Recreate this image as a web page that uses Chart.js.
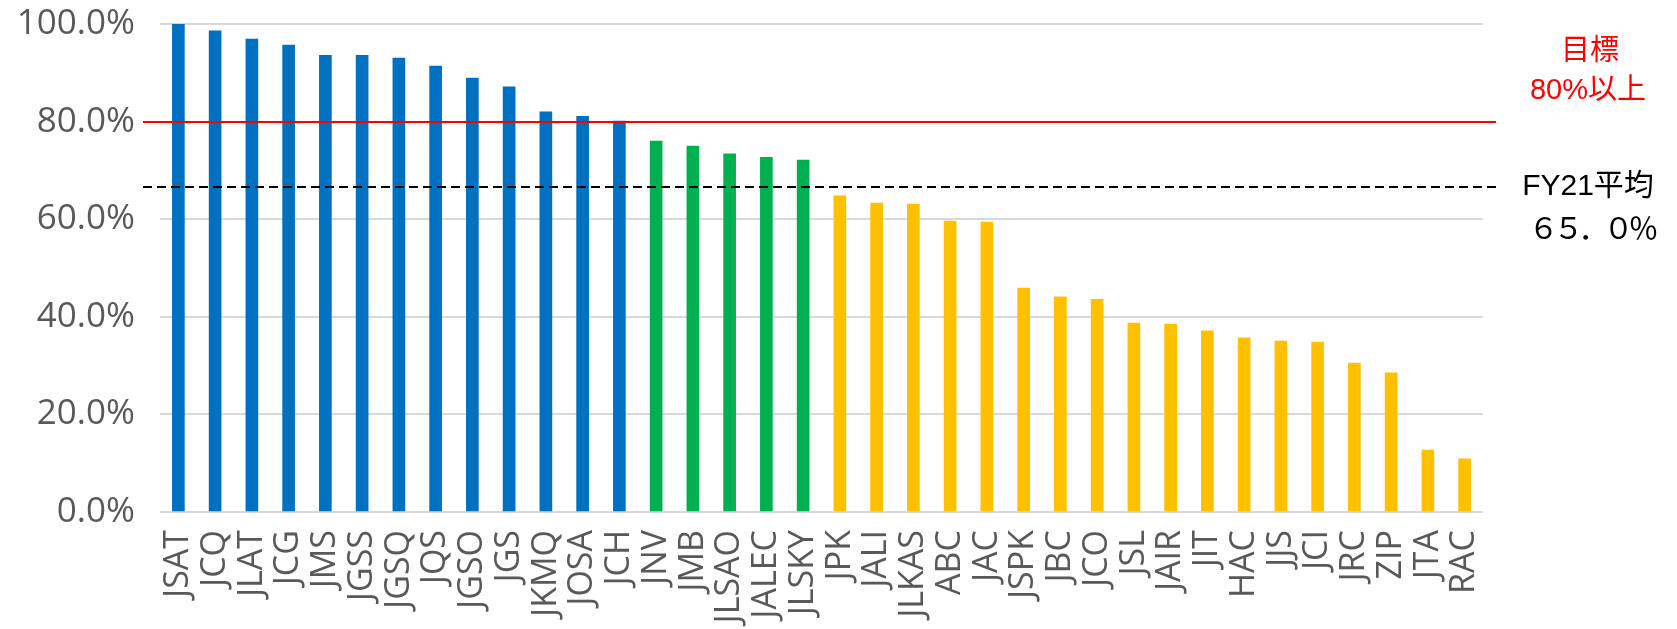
<!DOCTYPE html>
<html>
<head>
<meta charset="utf-8">
<script src="https://cdn.jsdelivr.net/npm/chart.js@4/dist/chart.umd.min.js"></script>
<style>
  html, body { margin: 0; padding: 0; background: #ffffff; }
  #wrap { width: 1677px; height: 629px; position: relative; }
</style>
</head>
<body>
<div id="wrap"><canvas id="c" width="1677" height="629"></canvas></div>
<script>
const categories = ["JSAT","JCQ","JLAT","JCG","JMS","JGSS","JGSQ","JQS","JGSO","JGS","JKMQ","JOSA","JCH",
  "JNV","JMB","JLSAO","JALEC","JLSKY",
  "JPK","JALI","JLKAS","ABC","JAC","JSPK","JBC","JCO","JSL","JAIR","JIT","HAC","JJS","JCI","JRC","ZIP","JTA","RAC"];
const values = [100.0, 98.6, 96.9, 95.7, 93.6, 93.6, 93.0, 91.4, 88.9, 87.1, 82.0, 81.1, 80.1,
  76.0, 75.0, 73.4, 72.7, 72.1,
  64.8, 63.3, 63.1, 59.6, 59.4, 45.9, 44.1, 43.6, 38.7, 38.5, 37.1, 35.7, 35.0, 34.8, 30.5, 28.5, 12.7, 10.9];
const tierCounts = [13, 5, 18];
const tierColors = ["#0070C0", "#00B050", "#FFC000"];
const yTicks = [0, 20, 40, 60, 80, 100];
const targetValue = 80;
const averageValue = 66.7;
const targetLabel = ["目標", "80%以上"];
const averageLabel = ["FY21平均", "６５．０％"];

const barColors = [];
tierCounts.forEach((n, i) => { for (let k = 0; k < n; k++) barColors.push(tierColors[i]); });

const refLines = {
  id: 'refLines',
  afterDatasetsDraw(chart) {
    const { ctx, chartArea, scales } = chart;
    const y = scales.y;
    const x0 = chartArea.left - 17, x1 = chartArea.right + 13;
    ctx.save();
    const yt = Math.round(y.getPixelForValue(targetValue));
    ctx.strokeStyle = '#FF0000';
    ctx.lineWidth = 2;
    ctx.beginPath(); ctx.moveTo(x0, yt); ctx.lineTo(x1, yt); ctx.stroke();
    const ya = Math.round(y.getPixelForValue(averageValue));
    ctx.strokeStyle = '#000000';
    ctx.lineWidth = 2;
    ctx.setLineDash([9, 5]);
    ctx.beginPath(); ctx.moveTo(x0, ya); ctx.lineTo(x1, ya); ctx.stroke();
    ctx.setLineDash([]);
    ctx.textAlign = 'center';
    ctx.textBaseline = 'middle';
    const cx = chartArea.right + 105;
    ctx.font = '29px "Liberation Sans", "Noto Sans CJK JP", sans-serif';
    ctx.fillStyle = '#FF0000';
    ctx.fillText(targetLabel[0], cx + 2, yt - 70);
    ctx.fillText(targetLabel[1], cx, yt - 31);
    ctx.fillStyle = '#000000';
    ctx.font = '30px "Liberation Sans", "Noto Sans CJK JP", sans-serif';
    ctx.fillText(averageLabel[0], cx, ya);
    ctx.font = '30px "Noto Sans CJK JP", sans-serif';
    ctx.letterSpacing = '-5px';
    ctx.fillText(averageLabel[1], cx + 3, ya + 41);
    ctx.letterSpacing = '0px';
    ctx.restore();
  }
};

new Chart(document.getElementById('c'), {
  type: 'bar',
  data: {
    labels: categories,
    datasets: [{
      data: values,
      backgroundColor: barColors,
      borderWidth: 0,
      barThickness: 12
    }]
  },
  options: {
    responsive: false,
    animation: false,
    layout: { padding: { top: 24, right: 194, bottom: 0, left: 0 } },
    plugins: { legend: { display: false }, tooltip: { enabled: false } },
    scales: {
      x: {
        grid: { display: false, drawTicks: false },
        border: { display: false },
        ticks: {
          color: '#595959',
          font: { family: '"Open Sans", sans-serif', size: 34 },
          minRotation: 90, maxRotation: 90,
          autoSkip: false,
          padding: 18
        },
        afterFit(scale) {
          scale.height = 117;
          scale.paddingTop = 0; scale.paddingBottom = 0;
          scale.paddingLeft = 0; scale.paddingRight = 0;
        }
      },
      y: {
        min: 0, max: 100,
        afterBuildTicks(scale) { scale.ticks = yTicks.map(v => ({ value: v })); },
        grid: { color: '#D9D9D9', lineWidth: 2, drawTicks: false },
        border: { display: false },
        ticks: {
          color: '#595959',
          font: { family: '"Open Sans", sans-serif', size: 35 },
          padding: 25,
          callback: v => v.toFixed(1) + '%'
        },
        afterFit(scale) {
          scale.width = 160;
          scale.paddingTop = 0; scale.paddingBottom = 0;
          scale.paddingLeft = 0; scale.paddingRight = 0;
        }
      }
    }
  },
  plugins: [refLines]
});
</script>
</body>
</html>
